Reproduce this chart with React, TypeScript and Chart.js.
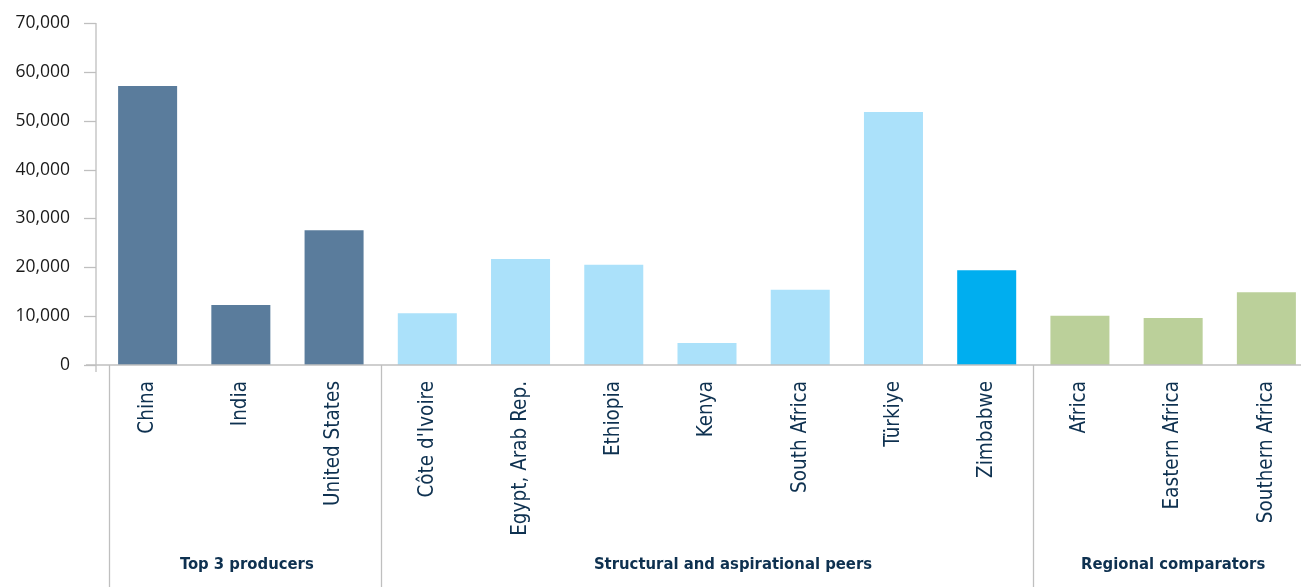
import React, { useEffect, useRef } from "react";
import { Chart, registerables } from "chart.js";

Chart.register(...registerables);

const categories = [
  "China",
  "India",
  "United States",
  "Côte d'Ivoire",
  "Egypt, Arab Rep.",
  "Ethiopia",
  "Kenya",
  "South Africa",
  "Türkiye",
  "Zimbabwe",
  "Africa",
  "Eastern Africa",
  "Southern Africa",
];

const values = [57100, 12300, 27600, 10600, 21700, 20500, 4500, 15400, 51800, 19400, 10100, 9600, 14900];

const barColors = [
  "#5a7c9c", "#5a7c9c", "#5a7c9c",
  "#abe1fa", "#abe1fa", "#abe1fa", "#abe1fa", "#abe1fa", "#abe1fa",
  "#00aeef",
  "#bbd09a", "#bbd09a", "#bbd09a",
];

const groupLabels = ["Top 3 producers", "Structural and aspirational peers", "Regional comparators"];
const groupStart = [0, 3, 10];
const groupEnd = [2, 9, 12];

const yMin = 0;
const yMax = 70000;
const yStep = 10000;

const AXIS_GREY = "#bfbfbf";
const NAVY = "#0e3150";
const CAT_FONT = "'Liberation Sans Narrow', 'DejaVu Sans Condensed', 'Roboto', sans-serif";

export default function App() {
  const ref = useRef<HTMLCanvasElement | null>(null);

  useEffect(() => {
    if (!ref.current) return;

    const groupPlugin = {
      id: "groupPlugin",
      afterDraw(chart: any) {
        const ctx = chart.ctx;
        const x = chart.scales.x;
        const y = chart.scales.y;
        const area = chart.chartArea;
        const H = chart.height;
        const W = chart.width;
        const zeroY = y.getPixelForValue(0);
        const axisX = area.left - 5;
        const half = (x.getPixelForValue(1) - x.getPixelForValue(0)) / 2;
        ctx.save();
        ctx.strokeStyle = AXIS_GREY;
        ctx.lineWidth = 1.3;
        ctx.beginPath();
        ctx.moveTo(axisX, area.top);
        ctx.lineTo(axisX, zeroY + 7);
        ctx.stroke();
        for (let v = yMin; v <= yMax; v += yStep) {
          const py = Math.round(y.getPixelForValue(v)) + 0.5;
          ctx.beginPath();
          ctx.moveTo(axisX - 12, py);
          ctx.lineTo(axisX, py);
          ctx.stroke();
        }
        ctx.lineWidth = 1.6;
        ctx.beginPath();
        ctx.moveTo(axisX - 10, zeroY);
        ctx.lineTo(W, zeroY);
        ctx.stroke();
        ctx.lineWidth = 1.3;
        const labelOffsets = [2, 26, 0];
        for (let g = 0; g < groupLabels.length; g++) {
          let left = x.getPixelForValue(groupStart[g]) - half;
          if (g === 0) left += 8;
          const right = x.getPixelForValue(groupEnd[g]) + half;
          const lx = Math.round(left) + 0.5;
          ctx.beginPath();
          ctx.moveTo(lx, zeroY);
          ctx.lineTo(lx, H);
          ctx.stroke();
          ctx.fillStyle = NAVY;
          ctx.font = "bold 16.5px " + CAT_FONT;
          ctx.textAlign = "center";
          ctx.textBaseline = "middle";
          ctx.fillText(groupLabels[g], (left + right) / 2 + labelOffsets[g], 565);
        }
        ctx.restore();
      },
    };

    const chart = new Chart(ref.current, {
      type: "bar",
      data: {
        labels: categories,
        datasets: [
          {
            data: values,
            backgroundColor: barColors,
            borderWidth: 0,
            barPercentage: 0.633,
            categoryPercentage: 1,
          },
        ],
      },
      options: {
        responsive: false,
        animation: false,
        events: [],
        layout: { padding: { top: 23, left: 0, right: 0, bottom: 0 } },
        plugins: {
          legend: { display: false },
          tooltip: { enabled: false },
          title: { display: false },
        },
        scales: {
          x: {
            type: "category",
            offset: true,
            grid: { display: false, drawTicks: false },
            border: { display: false },
            ticks: {
              autoSkip: false,
              minRotation: 90,
              maxRotation: 90,
              padding: 16,
              color: NAVY,
              font: { family: CAT_FONT, size: 20.5 },
            },
            afterFit: (s: any) => {
              s.height = 222;
              s.paddingTop = 0;
              s.paddingBottom = 0;
              s.paddingLeft = 0;
              s.paddingRight = 0;
            },
          },
          y: {
            min: yMin,
            max: yMax,
            grid: { display: false, drawTicks: false },
            border: { display: false },
            ticks: {
              stepSize: yStep,
              padding: 31,
              color: "#1a1a1a",
              font: { family: "'Open Sans', sans-serif", size: 17.5 },
              callback: (v: any) => Number(v).toLocaleString("en-US"),
            },
            afterFit: (s: any) => {
              s.width = 101;
              s.paddingTop = 0;
              s.paddingBottom = 0;
            },
          },
        },
      },
      plugins: [groupPlugin],
    });

    return () => chart.destroy();
  }, []);

  return (
    <div
      style={{
        position: "absolute",
        left: 0,
        top: 0,
        width: 1301,
        height: 587,
        overflow: "hidden",
        background: "#ffffff",
      }}
    >
      <canvas ref={ref} width={1313} height={587} style={{ display: "block" }} />
    </div>
  );
}
